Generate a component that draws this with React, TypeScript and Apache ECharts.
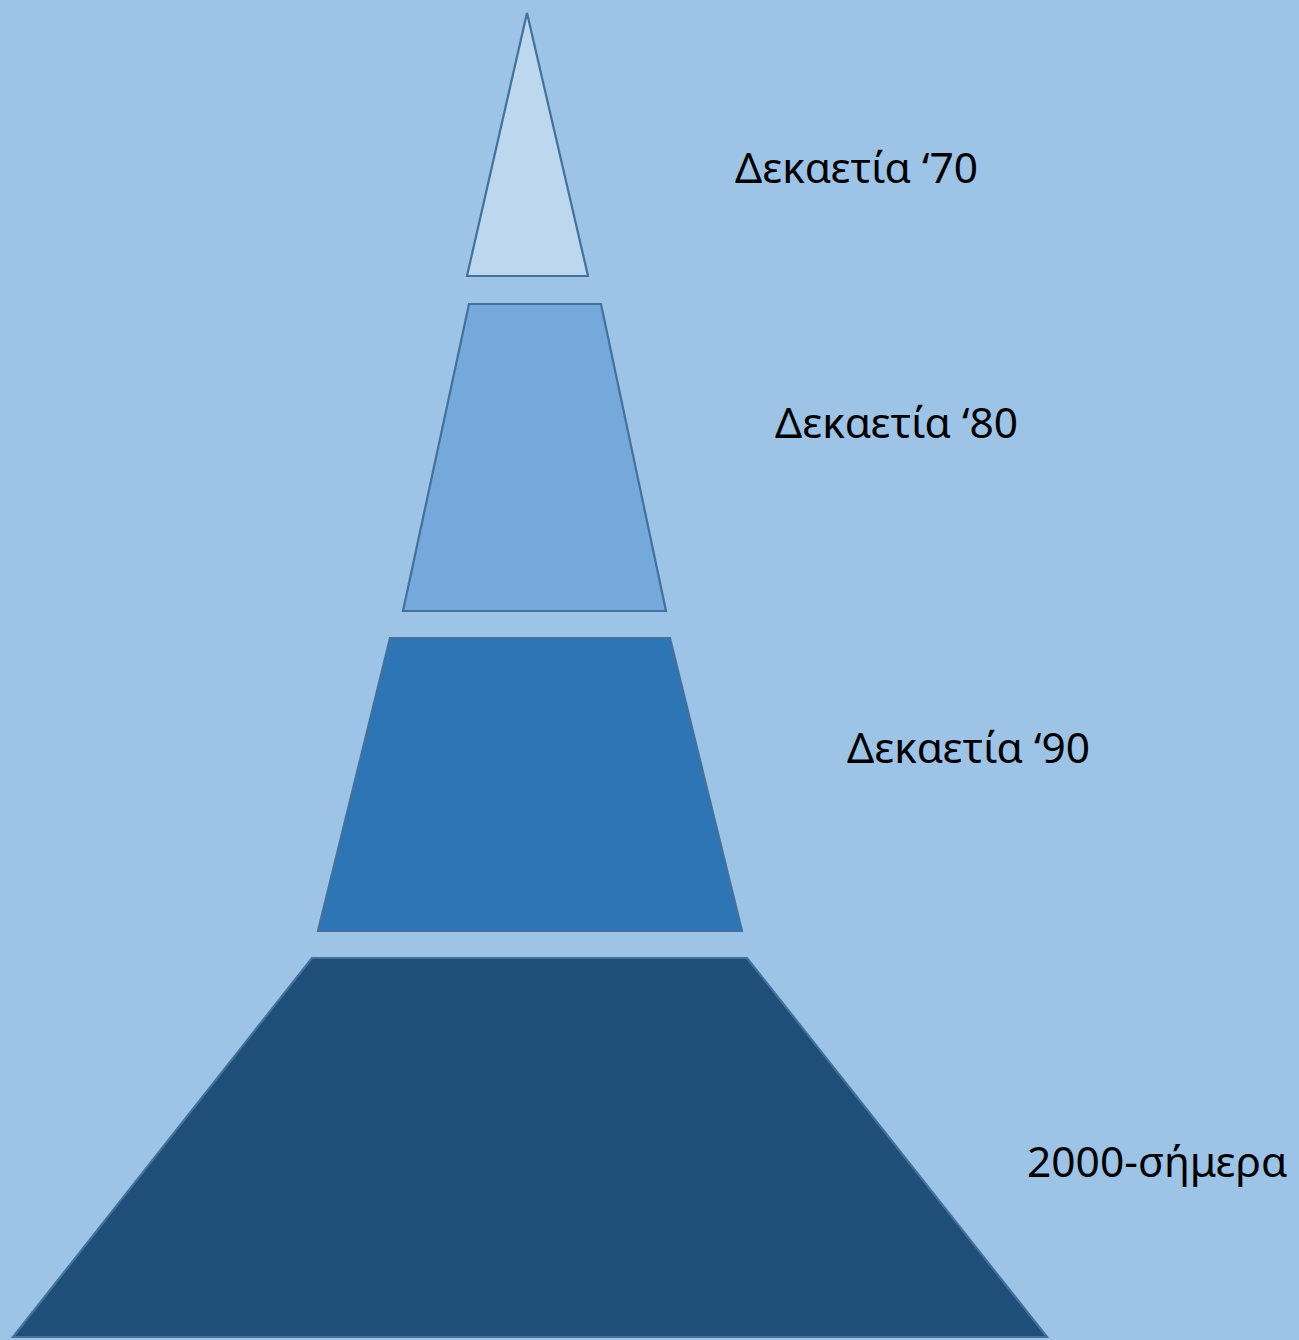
import React, { useEffect, useRef } from "react";
import * as echarts from "echarts";

// Pyramid segments, top to bottom (values in the chart's own x/y units)
const categories = ["Δεκαετία ‘70", "Δεκαετία ‘80", "Δεκαετία ‘90", "2000-σήμερα"];
const topY = [13, 304, 638, 958];
const bottomY = [276, 611, 931, 1337];
const topLeftX = [527, 469, 390, 312];
const topRightX = [527, 601, 670, 747];
const bottomLeftX = [467, 403, 318, 13];
const bottomRightX = [588, 666, 742, 1047];
// label anchors (left edge, vertical middle)
const labelX = [735, 775, 847, 1027];
const labelY = [166, 421, 746, 1160];

const fills = ["#BDD7EE", "#75A9DB", "#2E75B6", "#1F4E79"];

export default function App() {
  const ref = useRef<HTMLDivElement>(null);
  useEffect(() => {
    if (!ref.current) return;
    const chart = echarts.init(ref.current, undefined, { renderer: "svg" });
    const data = categories.map((name, i) => ({
      name,
      value: [i, topY[i], bottomY[i], topLeftX[i], topRightX[i], bottomLeftX[i], bottomRightX[i], labelX[i], labelY[i]],
    }));
    chart.setOption({
      animation: false,
      backgroundColor: "#9DC3E6",
      grid: { left: 0, right: 0, top: 0, bottom: 0 },
      xAxis: { type: "value", min: 0, max: 1299, show: false },
      yAxis: { type: "value", min: 0, max: 1340, inverse: true, show: false },
      series: [
        {
          type: "custom",
          data,
          renderItem: (params: any, api: any) => {
            const i = api.value(0);
            const ty = api.value(1);
            const by = api.value(2);
            const tl = api.coord([api.value(3), ty]);
            const tr = api.coord([api.value(4), ty]);
            const br = api.coord([api.value(6), by]);
            const bl = api.coord([api.value(5), by]);
            const lp = api.coord([api.value(7), api.value(8)]);
            return {
              type: "group",
              children: [
                {
                  type: "polygon",
                  shape: { points: [tl, tr, br, bl] },
                  style: { fill: fills[i], stroke: "#41719C", lineWidth: 2.2, lineJoin: "miter" },
                },
                {
                  type: "text",
                  style: {
                    text: categories[i],
                    x: lp[0],
                    y: lp[1],
                    fill: "#000000",
                    fontSize: 42.5,
                    fontFamily: "Noto Sans",
                    align: "left",
                    verticalAlign: "middle",
                  },
                },
              ],
            };
          },
        },
      ],
    });
    return () => chart.dispose();
  }, []);
  return (
    <div
      ref={ref}
      style={{ position: "fixed", left: 0, top: 0, width: 1299, height: 1340 }}
    />
  );
}
